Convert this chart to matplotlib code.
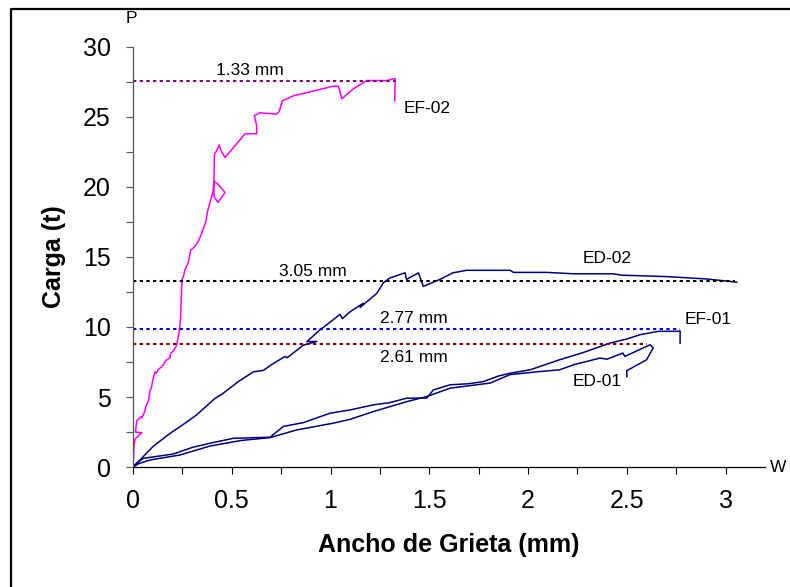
import matplotlib
matplotlib.use('Agg')
import matplotlib.pyplot as plt
from matplotlib.ticker import MultipleLocator
from matplotlib.lines import Line2D

plt.rcParams['font.family'] = ['Liberation Sans', 'DejaVu Sans']

ef02_x = [0, 0.003, 0.005, 0.01, 0.044, 0.012, 0.019, 0.04, 0.045, 0.06, 0.066, 0.078,
          0.086, 0.092, 0.10, 0.111, 0.118, 0.13, 0.14, 0.154, 0.165, 0.187, 0.19, 0.205,
          0.221, 0.235, 0.24, 0.248, 0.255, 0.263, 0.28, 0.292, 0.31, 0.33, 0.348,
          0.37, 0.376, 0.39, 0.404, 0.41, 0.43, 0.466, 0.43, 0.41,
          0.41, 0.412, 0.437, 0.445, 0.466, 0.567, 0.626, 0.626, 0.614, 0.643, 0.727,
          0.74, 0.756, 0.81, 1.014, 1.04, 1.057, 1.115, 1.183, 1.284, 1.327, 1.327, 1.325]
ef02_y = [0, 0.8, 1.5, 2.0, 2.45, 2.5, 3.3, 3.6, 3.5, 4.0, 4.4, 4.7,
          5.5, 5.6, 6.2, 6.8, 6.7, 7.0, 7.1, 7.3, 7.6, 7.8, 8.1, 8.3,
          8.7, 9.8, 10.5, 13.4, 13.6, 14.1, 14.6, 15.5, 15.7, 16.1, 16.7,
          17.6, 18.2, 18.9, 19.6, 20.4, 20.2, 19.6, 18.9, 19.3,
          20.5, 22.3, 23.0, 22.6, 22.1, 23.8, 23.8, 24.4, 25.1, 25.3, 25.2,
          25.4, 26.15, 26.5, 27.2, 27.2, 26.3, 27.0, 27.6, 27.6, 27.75, 27.75, 26.15]

ed02_x = [0, 0.035, 0.10, 0.187, 0.25, 0.32, 0.415, 0.45, 0.533, 0.61, 0.66, 0.70,
          0.77, 0.78, 0.862, 0.93, 0.88, 0.947, 0.98, 1.048, 1.06, 1.10, 1.166, 1.15,
          1.234, 1.267, 1.30, 1.377, 1.385, 1.445, 1.47, 1.554, 1.62, 1.69, 1.909,
          1.926, 2.095, 2.23, 2.43, 2.475, 2.70, 2.905, 3.057]
ed02_y = [0, 0.5, 1.45, 2.4, 3.0, 3.7, 4.9, 5.2, 6.1, 6.8, 6.9, 7.3,
          7.9, 7.8, 8.7, 8.97, 8.95, 9.8, 10.15, 10.9, 10.6, 11.1, 11.7, 11.4,
          12.4, 13.15, 13.5, 13.87, 13.4, 13.87, 12.9, 13.4, 13.87, 14.05, 14.05,
          13.9, 13.9, 13.8, 13.8, 13.7, 13.6, 13.43, 13.2]

ef01_x = [0, 0.02, 0.052, 0.204, 0.30, 0.39, 0.508, 0.694, 0.761, 0.862, 0.997, 1.10,
          1.217, 1.30, 1.386, 1.487, 1.52, 1.605, 1.70, 1.774, 1.85, 1.909, 2.01, 2.16,
          2.28, 2.415, 2.5, 2.567, 2.66, 2.76, 2.77, 2.77]
ef01_y = [0, 0.3, 0.62, 0.93, 1.4, 1.7, 2.05, 2.13, 2.9, 3.17, 3.84, 4.08,
          4.44, 4.6, 4.92, 4.92, 5.5, 5.87, 5.95, 6.1, 6.5, 6.7, 6.94, 7.66,
          8.18, 8.85, 9.14, 9.45, 9.69, 9.69, 9.72, 8.85]

ed01_x = [0, 0.03, 0.086, 0.238, 0.39, 0.55, 0.694, 0.829, 1.014, 1.10, 1.217,
          1.386, 1.487, 1.605, 1.81, 1.909, 2.06, 2.16, 2.23, 2.364, 2.40, 2.48, 2.49,
          2.618, 2.634, 2.6, 2.508, 2.5, 2.5]
ed01_y = [0, 0.25, 0.5, 0.86, 1.5, 1.9, 2.1, 2.65, 3.13, 3.41, 3.96,
          4.67, 5.03, 5.63, 6.0, 6.6, 6.82, 6.94, 7.3, 7.78, 7.7, 8.14, 7.9,
          8.73, 8.5, 7.66, 6.94, 6.9, 6.46]

# reference levels: load, crack width, label
ref_loads = [27.6, 13.26, 9.86, 8.76]
ref_widths = [1.33, 3.05, 2.77, 2.6]
ref_labels = ['1.33 mm', '3.05 mm', '2.77 mm', '2.61 mm']
ref_colors = ['#800080', 'black', '#0000FF', '#800000']
ref_text_pos = [(0.59, 27.75), (0.91, 13.45), (1.42, 10.05), (1.42, 7.3)]

curve_names = ['EF-02', 'ED-02', 'EF-01', 'ED-01']
name_pos = [(1.49, 25.6), (2.40, 14.9), (2.91, 10.5), (2.35, 6.1)]

fig = plt.figure(figsize=(7.9, 5.87), dpi=100)
ax = fig.add_axes([0.1684, 0.2044, 0.80, 0.7156])

ax.plot(ef02_x, ef02_y, color='#FF00FF', lw=1.1)
for xs, ys in [(ed02_x, ed02_y), (ef01_x, ef01_y), (ed01_x, ed01_y)]:
    ax.plot(xs, ys, color='#000080', lw=1.1)

for yv, xv, c in zip(ref_loads, ref_widths, ref_colors):
    ax.plot([0, xv], [yv, yv], color=c, lw=1.5, linestyle=(0, (1.6, 1.6)))

for lab, (tx, ty) in zip(ref_labels, ref_text_pos):
    ax.text(tx, ty, lab, fontsize=12.5, ha='center', va='bottom')
for lab, (tx, ty) in zip(curve_names, name_pos):
    ax.text(tx, ty, lab, fontsize=12.5, ha='center', va='center')

ax.set_xlim(0, 3.2)
ax.set_ylim(0, 30)
ax.xaxis.set_major_locator(MultipleLocator(0.5))
ax.xaxis.set_minor_locator(MultipleLocator(0.25))
ax.yaxis.set_major_locator(MultipleLocator(5))
ax.yaxis.set_minor_locator(MultipleLocator(2.5))
ax.set_xticks([0, 0.5, 1, 1.5, 2, 2.5, 3])
ax.set_xticklabels(['0', '0.5', '1', '1.5', '2', '2.5', '3'])
ax.tick_params(axis='both', which='both', direction='out', length=5, width=0.8,
               labelsize=18, pad=11)
ax.tick_params(axis='y', which='both', color='#555555')
ax.spines['top'].set_visible(False)
ax.spines['right'].set_visible(False)
ax.spines['left'].set_color('#555555')
ax.spines['left'].set_linewidth(0.9)
ax.spines['bottom'].set_linewidth(0.9)

ax.set_xlabel('Ancho de Grieta (mm)', fontsize=18, fontweight='bold', labelpad=14)
ax.set_ylabel('Carga (t)', fontsize=18, fontweight='bold', labelpad=12)

ax.text(-0.01, 32.0, 'P', fontsize=12.5, ha='center', va='center', clip_on=False)
ax.text(3.266, 0, 'W', fontsize=12.5, ha='center', va='center', clip_on=False)

# outer frame (only left and top edges fall inside the picture)
fig.add_artist(Line2D([11 / 790, 11 / 790, 1.0], [0.0, 1 - 9 / 587, 1 - 9 / 587],
                      transform=fig.transFigure, color='black', lw=1.6))

plt.savefig('out.png', dpi=100)
